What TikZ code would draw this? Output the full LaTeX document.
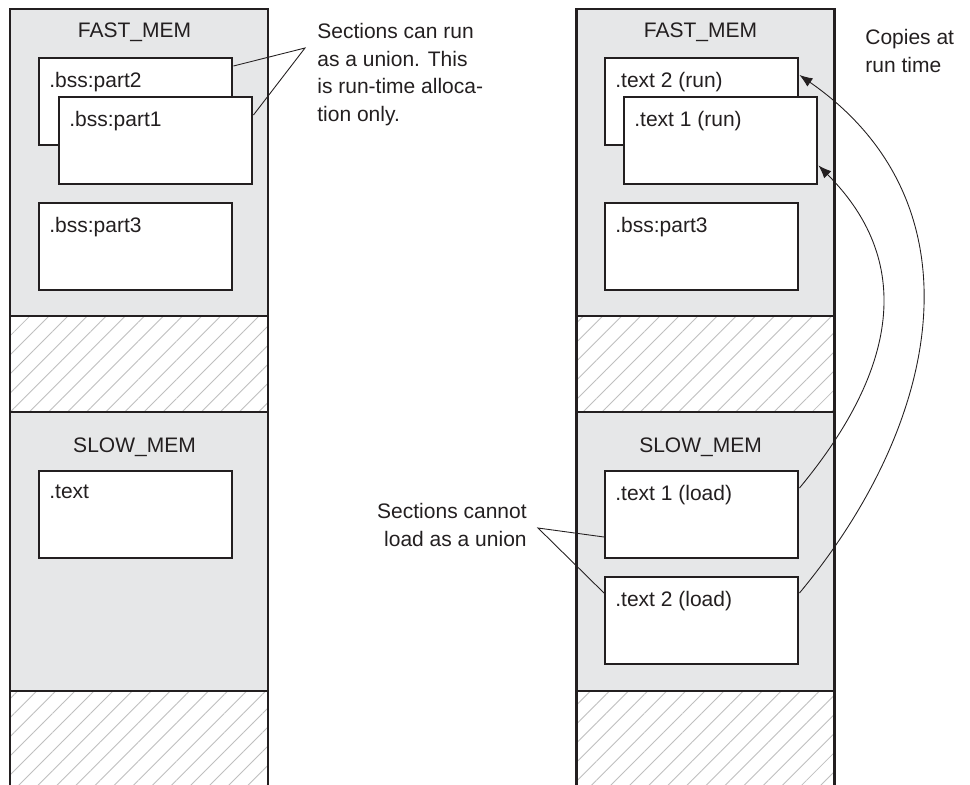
\documentclass[tikz,border=0pt]{standalone}
\usepackage{fontspec}
\setmainfont{Liberation Sans}
\usetikzlibrary{positioning, calc, arrows.meta, patterns.meta}
\definecolor{memgray}{RGB}{230,231,232}
\definecolor{inkblack}{RGB}{35,31,32}
\colorlet{hatchgray}{gray!50}

\begin{document}
\begin{tikzpicture}[x=0.2mm, y=-0.2mm,
    every node/.style={font=\fontsize{11.95pt}{15.9pt}\selectfont,
      text=inkblack},
    section/.style={rectangle,
      draw=inkblack,
      line width=1.4pt,
      fill=white,
      anchor=north west,
      minimum width=38.6mm,
      minimum height=17.4mm,
      inner sep=0pt,
      label={[anchor=north west, inner sep=0pt, xshift=2.2mm,
        yshift=-3mm]north west:#1}},
    hatch/.style={fill=white,
      pattern={Lines[angle=45, distance=2.7mm, line width=0.5pt]},
      pattern color=hatchgray},
    note/.style={inner sep=0pt}]
  \useasboundingbox (0,0) rectangle (970,785);

% MEMORY COLUMNS
  \foreach \cx in {10,576} {
    \fill[memgray] (\cx,9) rectangle ({\cx+258},785);
    \fill[white] (\cx,316) rectangle ({\cx+258},412);
    \fill[hatch] (\cx,316) rectangle ({\cx+258},412);
    \fill[white] (\cx,691) rectangle ({\cx+258},785);
    \fill[hatch] (\cx,691) rectangle ({\cx+258},785);
    \draw[inkblack, line width=0.7pt] (\cx,316) -- ++(258,0)
      (\cx,412) -- ++(258,0) (\cx,691) -- ++(258,0);
    \draw[inkblack, line width=1.7pt] (\cx,785) -- (\cx,9)
      -- ({\cx+258},9) -- ({\cx+258},785);
  }

% LEFT: UNION OF RUN SECTIONS
  \node[anchor=base] (lfast) at (134.5,38) {FAST\_MEM};
  \node[section=.bss:part2] (lpart2) at (38,57) {};
  \node[section=.bss:part1] (lpart1) at (58,96) {};
  \node[section=.bss:part3] (lpart3) at (38,202) {};

  \node[anchor=base] (lslow) at (134.5,452) {SLOW\_MEM};
  \node[section=.text] (ltext) at (38,470) {};

% RIGHT: SEPARATE LOAD SECTIONS
  \node[anchor=base] (rfast) at (700.5,38) {FAST\_MEM};
  \node[section={.text 2 (run)}] (rtwo) at (604,57) {};
  \node[section={.text 1 (run)}] (rone) at (623,96) {};
  \node[section=.bss:part3] (rpart3) at (604,202) {};

  \node[anchor=base] (rslow) at (700.5,452) {SLOW\_MEM};
  \node[section={.text 1 (load)}] (ldone) at (604,470) {};
  \node[section={.text 2 (load)}] (ldtwo) at (604,576) {};

% NOTES
  \node[note, align=left, anchor=north west] (runnote) at (317,22.5)
    {Sections can run\\as a union. This\\is run-time alloca-\\tion only.};
  \coordinate (runapex) at (305,48);
  \draw[inkblack, line width=0.5pt] ($(lpart2.north east)+(0,9)$)
    -- (runapex) -- ($(lpart1.north east)+(0,19)$);

  \node[note, align=right, anchor=north east] (loadnote) at (527,502.5)
    {Sections cannot\\load as a union};
  \coordinate (loadapex) at (538,528);
  \draw[inkblack, line width=0.5pt] ($(ldone.north west)+(0,67)$)
    -- (loadapex) -- ($(ldtwo.north west)+(0,17)$);

  \node[note, align=left, anchor=north west] (copynote) at (865,28.5)
    {Copies at\\run time};

% COPY ARROWS
  \draw[-{Latex[length=2.6mm, width=2mm]}, inkblack, line width=0.5pt]
    ($(ldone.north east)+(0,18)$) .. controls +(92,-111) and +(101,101)
    .. ($(rone.south east)+(0,-20)$);
  \draw[-{Latex[length=2.6mm, width=2mm]}, inkblack, line width=0.5pt]
    ($(ldtwo.north east)+(0,17)$) .. controls +(143,-172) and +(184,128)
    .. ($(rtwo.north east)+(0,18)$);
\end{tikzpicture}
\end{document}
